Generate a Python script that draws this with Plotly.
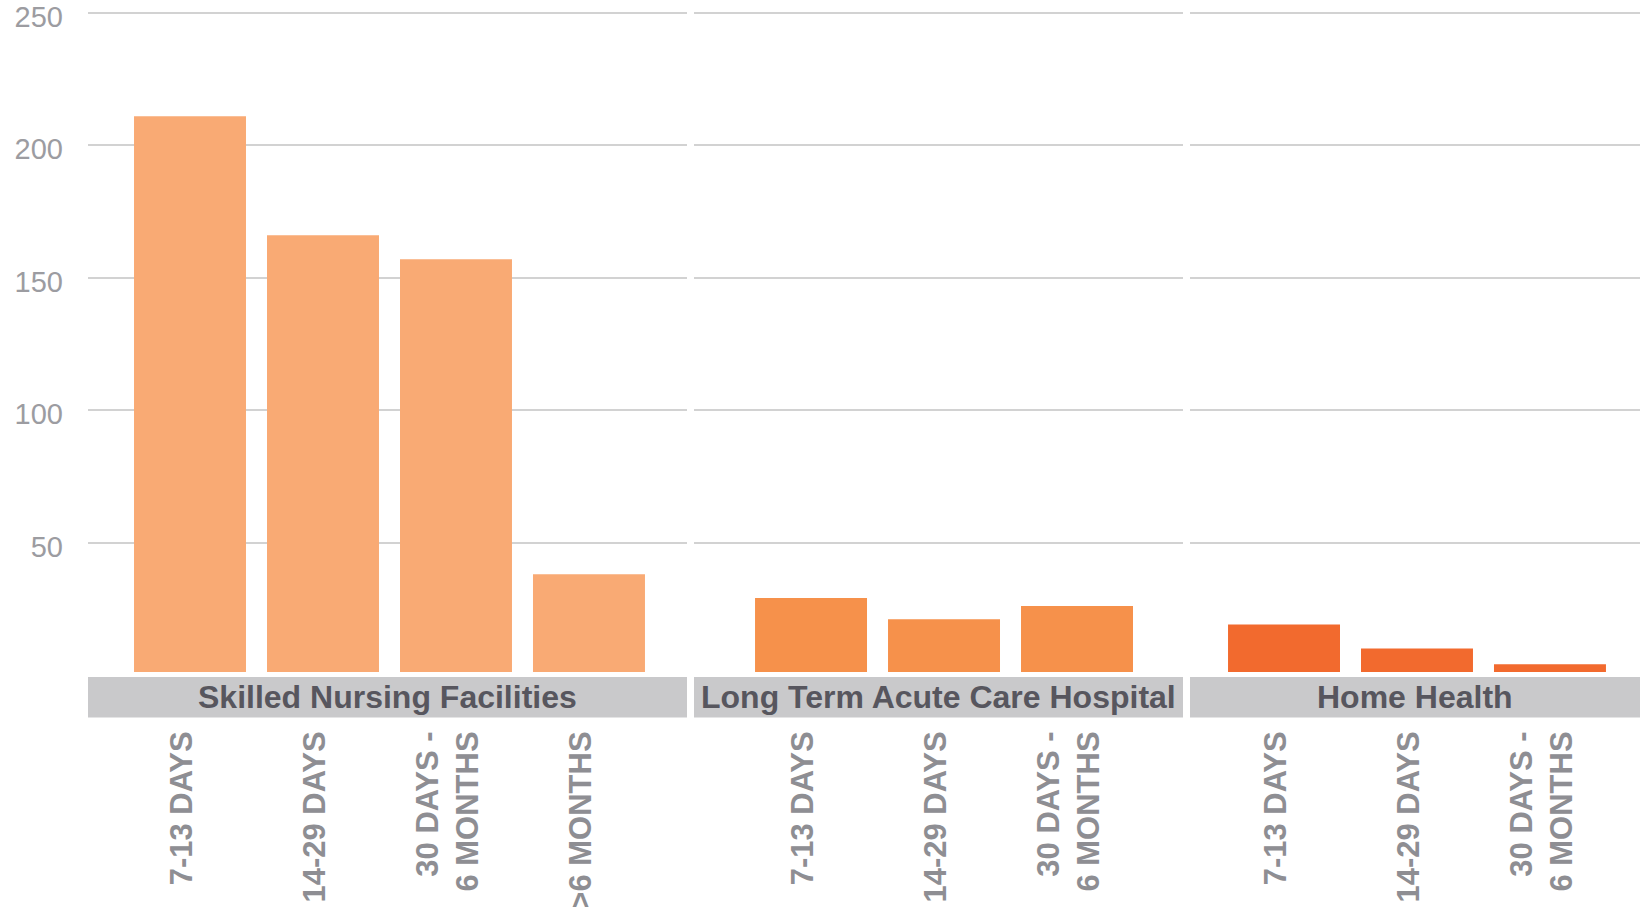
"""
Discharge destination by length of stay — faceted bar chart.
"""

import plotly.graph_objects as go
from plotly.subplots import make_subplots

# ---------------------------------------------------------------------------
# Data
# ---------------------------------------------------------------------------

PANEL_TITLES = ["Skilled Nursing Facilities", "Long Term Acute Care Hospital", "Home Health"]

SNF_LABELS = ["7-13 DAYS", "14-29 DAYS", "30 DAYS -<br>6 MONTHS", ">6 MONTHS"]
SNF_VALUES = [211, 166, 157, 38]

LTACH_LABELS = ["7-13 DAYS", "14-29 DAYS", "30 DAYS -<br>6 MONTHS"]
LTACH_VALUES = [29, 21, 26]

HH_LABELS = ["7-13 DAYS", "14-29 DAYS", "30 DAYS -<br>6 MONTHS"]
HH_VALUES = [19, 10, 4]

Y_TICKS = [50, 100, 150, 200, 250]

# ---------------------------------------------------------------------------
# Design tokens
# ---------------------------------------------------------------------------

ORANGE_LIGHT = "#F9AA74"
ORANGE_MID   = "#F6914B"
ORANGE_DARK  = "#F26A2E"
STRIP_BG     = "#C9C9CB"
STRIP_TEXT   = "#57565E"
TICK_GRAY    = "#8E8E93"
YTICK_GRAY   = "#9C9CA1"
GRID_LINE    = "#D2D2D2"
FONT         = "Liberation Sans, Arial, sans-serif"

W, H = 1640, 907
MARGIN = dict(l=88, r=0, t=10, b=235)

# x domains (paper) for the three panels, and category ranges
DOMAINS = [(0.0, 0.38595), (0.39046, 0.70554), (0.71005, 1.0)]
X_RANGES = [(-0.767, 3.737), (-0.88, 2.797), (-0.707, 2.677)]
Y_RANGE = (1.1, 251.1)


def build_figure() -> go.Figure:
    panels = [
        (SNF_LABELS, SNF_VALUES, ORANGE_LIGHT),
        (LTACH_LABELS, LTACH_VALUES, ORANGE_MID),
        (HH_LABELS, HH_VALUES, ORANGE_DARK),
    ]

    fig = make_subplots(rows=1, cols=3, shared_yaxes=True)

    for i, (labels, values, color) in enumerate(panels, start=1):
        fig.add_trace(go.Bar(
            x=list(range(len(labels))), y=values,
            marker=dict(color=color, line=dict(width=0)),
            width=0.842,
            showlegend=False,
            hovertemplate="%{y}<extra></extra>",
        ), row=1, col=i)

        fig.update_xaxes(
            domain=DOMAINS[i - 1],
            range=X_RANGES[i - 1],
            tickmode="array",
            tickvals=list(range(len(labels))),
            ticktext=labels,
            tickangle=-90,
            ticks="outside",
            ticklen=46,
            tickcolor="rgba(0,0,0,0)",
            ticklabelshift=-8,
            tickfont=dict(family=FONT, size=31, color=TICK_GRAY, weight="bold"),
            showgrid=False,
            zeroline=False,
            showline=False,
            automargin=False,
            row=1, col=i,
        )
        fig.update_yaxes(
            range=Y_RANGE,
            tickmode="array",
            tickvals=Y_TICKS,
            showgrid=True,
            gridcolor=GRID_LINE,
            gridwidth=1.5,
            zeroline=False,
            showline=False,
            ticks="",
            showticklabels=(i == 1),
            ticklabelstandoff=24,
            ticklabelshift=4,
            ticklabeloverflow="allow",
            tickfont=dict(family=FONT, size=29, color=YTICK_GRAY),
            automargin=False,
            row=1, col=i,
        )

    # facet strips underneath the panels
    plot_h = H - MARGIN["t"] - MARGIN["b"]
    strip_top = -5.0 / plot_h
    strip_bot = -45.6 / plot_h
    for (x0, x1), title in zip(DOMAINS, PANEL_TITLES):
        fig.add_shape(
            type="rect", xref="paper", yref="paper",
            x0=x0, x1=x1, y0=strip_bot, y1=strip_top,
            fillcolor=STRIP_BG, line=dict(width=0), layer="below",
        )
        fig.add_annotation(
            xref="paper", yref="paper",
            x=(x0 + x1) / 2, y=(strip_top + strip_bot) / 2,
            text=title, showarrow=False,
            xanchor="center", yanchor="middle",
            font=dict(family=FONT, size=32, color=STRIP_TEXT, weight="bold"),
        )

    fig.update_layout(
        width=W, height=H,
        margin=MARGIN,
        paper_bgcolor="white",
        plot_bgcolor="white",
        bargap=0.16,
        font=dict(family=FONT),
    )
    return fig


fig = build_figure()
# drop the default body margin so the figure sits flush with the page
fig.write_html(
    "out.html",
    config={"displayModeBar": False},
    post_script="document.body.style.margin = '0';",
)
